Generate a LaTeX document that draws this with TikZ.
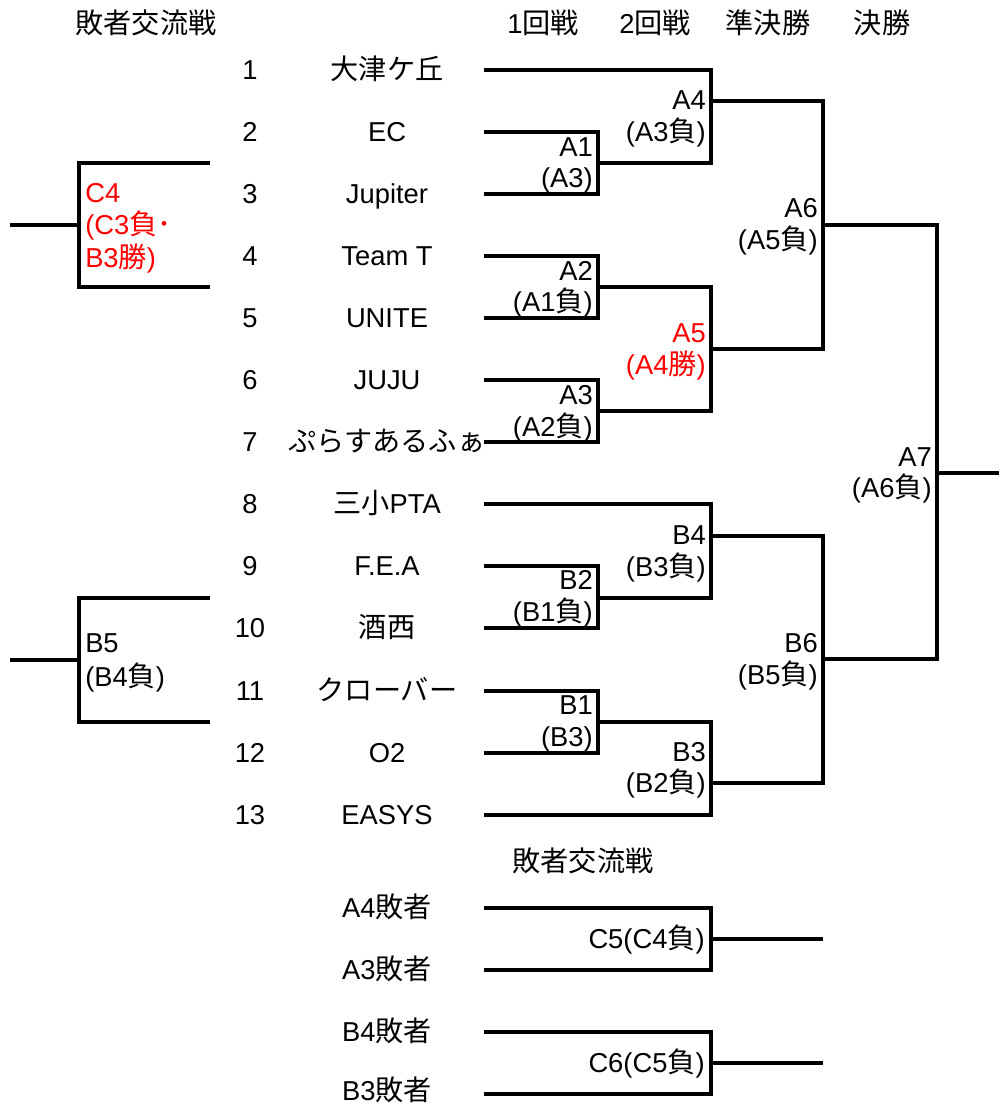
\documentclass[tikz,border=0pt]{standalone}
\usepackage{fontspec}
\setmainfont{Liberation Sans}
\newfontfamily\jp[Scale=1.03]{Noto Sans CJK JP}
\begin{document}
\begin{tikzpicture}[x=0.75pt,y=-0.75pt,
  br/.style={line width=3.2pt,line join=miter,line cap=butt},
  t/.style={inner sep=0pt,text height=14.7pt,text depth=0pt,font=\fontsize{20.5}{24}\selectfont},
  tr/.style={t,anchor=east},
  tl/.style={t,anchor=west},
  hot/.style={text=red}]
\fill[white] (0,0) rectangle (999,1106);
\useasboundingbox (0,0) rectangle (999,1106);

% headers
\node[t] (h0) at (146,24) {\jp 敗者交流戦};
\node[t] (h1) at (543,24) {1{\jp 回戦}};
\node[t] (h2) at (655,24) {2{\jp 回戦}};
\node[t] (h3) at (768,24) {\jp 準決勝};
\node[t] (h4) at (882,24) {\jp 決勝};

% numbers
\node[t] (k1) at (250,70) {1};
\node[t] (k2) at (250,132) {2};
\node[t] (k3) at (250,194) {3};
\node[t] (k4) at (250,256) {4};
\node[t] (k5) at (250,318) {5};
\node[t] (k6) at (250,380) {6};
\node[t] (k7) at (250,442) {7};
\node[t] (k8) at (250,504) {8};
\node[t] (k9) at (250,566) {9};
\node[t] (k10) at (250,628) {10};
\node[t] (k11) at (250,691) {11};
\node[t] (k12) at (250,753) {12};
\node[t] (k13) at (250,815) {13};

% names
\node[t] (n1) at (387,70) {\jp 大津ケ丘};
\node[t] (n2) at (387,132) {EC};
\node[t] (n3) at (387,194) {Jupiter};
\node[t] (n4) at (387,256) {Team T};
\node[t] (n5) at (387,318) {UNITE};
\node[t] (n6) at (387,380) {JUJU};
\node[t] (n7) at (387,442) {\jp ぷらすあるふぁ};
\node[t] (n8) at (387,504) {{\jp 三小}PTA};
\node[t] (n9) at (387,566) {F.E.A};
\node[t] (n10) at (387,628) {\jp 酒西};
\node[t] (n11) at (387,691) {\jp クローバー};
\node[t] (n12) at (387,753) {O2};
\node[t] (n13) at (387,815) {EASYS};

% main bracket lines
\draw[br] (484,132) -- (598,132) -- (598,194) -- (484,194);
\draw[br] (484,70) -- (711,70) -- (711,163) -- (598,163);
\draw[br] (484,256) -- (598,256) -- (598,318) -- (484,318);
\draw[br] (484,380) -- (598,380) -- (598,442) -- (484,442);
\draw[br] (598,287) -- (711,287) -- (711,411) -- (598,411);
\draw[br] (711,101) -- (823,101) -- (823,349) -- (711,349);
\draw[br] (484,504) -- (711,504) -- (711,598) -- (598,598);
\draw[br] (484,566) -- (598,566) -- (598,628) -- (484,628);
\draw[br] (484,691) -- (598,691) -- (598,753) -- (484,753);
\draw[br] (598,722) -- (711,722) -- (711,815) -- (484,815);
\draw[br] (711,536) -- (823,536) -- (823,783) -- (711,783);
\draw[br] (823,225) -- (937,225) -- (937,659) -- (823,659);
\draw[br] (937,473) -- (999,473);

% bracket labels
\node[tr] (a1a) at (593,147) {A1};
\node[tr] (a1b) at (593,178) {(A3)};
\node[tr] (a2a) at (593,271) {A2};
\node[tr] (a2b) at (593,302) {(A1{\jp 負})};
\node[tr] (a3a) at (593,395) {A3};
\node[tr] (a3b) at (593,427) {(A2{\jp 負})};
\node[tr] (a4a) at (706,100) {A4};
\node[tr] (a4b) at (706,132) {(A3{\jp 負})};
\node[tr,hot] (a5a) at (706,333) {A5};
\node[tr,hot] (a5b) at (706,365) {(A4{\jp 勝})};
\node[tr] (a6a) at (818,208) {A6};
\node[tr] (a6b) at (818,240) {(A5{\jp 負})};
\node[tr] (a7a) at (932,457) {A7};
\node[tr] (a7b) at (932,488) {(A6{\jp 負})};
\node[tr] (b4a) at (706,535) {B4};
\node[tr] (b4b) at (706,567) {(B3{\jp 負})};
\node[tr] (b2a) at (593,580) {B2};
\node[tr] (b2b) at (593,612) {(B1{\jp 負})};
\node[tr] (b1a) at (593,705) {B1};
\node[tr] (b1b) at (593,737) {(B3)};
\node[tr] (b3a) at (706,752) {B3};
\node[tr] (b3b) at (706,783) {(B2{\jp 負})};
\node[tr] (b6a) at (818,643) {B6};
\node[tr] (b6b) at (818,675) {(B5{\jp 負})};

% left consolation brackets
\draw[br] (210,163) -- (79,163) -- (79,287) -- (210,287);
\draw[br] (10,225) -- (79,225);
\draw[br] (210,598) -- (79,598) -- (79,722) -- (210,722);
\draw[br] (10,660) -- (79,660);
\node[tl,hot] (c4a) at (85,193) {C4};
\node[tl,hot] (c4b) at (85,225) {(C3{\jp 負･}};
\node[tl,hot] (c4c) at (85,258) {B3{\jp 勝})};
\node[tl] (b5a) at (85,643) {B5};
\node[tl] (b5b) at (85,677) {(B4{\jp 負})};

% bottom consolation
\node[t] (h5) at (583,862) {\jp 敗者交流戦};
\node[t] (l1) at (387,908) {A4{\jp 敗者}};
\node[t] (l2) at (387,970) {A3{\jp 敗者}};
\node[t] (l3) at (387,1032) {B4{\jp 敗者}};
\node[t] (l4) at (387,1091) {B3{\jp 敗者}};
\draw[br] (484,908) -- (711,908) -- (711,970) -- (484,970);
\draw[br] (711,939) -- (823,939);
\draw[br] (484,1032) -- (711,1032) -- (711,1094) -- (484,1094);
\draw[br] (711,1063) -- (823,1063);
\node[tr] (c5) at (705,939) {C5(C4{\jp 負})};
\node[tr] (c6) at (705,1063) {C6(C5{\jp 負})};
\end{tikzpicture}
\end{document}
